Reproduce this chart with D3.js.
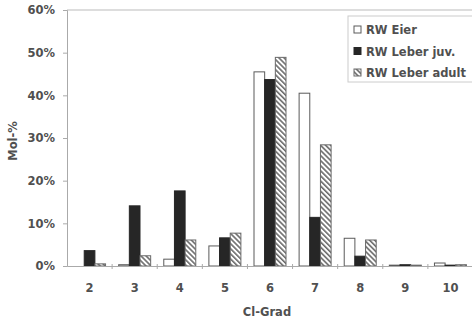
<!DOCTYPE html>
<html>
<head>
<meta charset="utf-8">
<script src="https://cdn.jsdelivr.net/npm/d3@7"></script>
<style>
  body { margin: 0; background: #fff; }
  svg text { font-family: "DejaVu Sans", sans-serif; font-weight: bold; fill: #505050; }
</style>
</head>
<body>
<svg id="chart" width="472" height="321"></svg>
<script>
// Cl-Grad categories
var grades = ["2", "3", "4", "5", "6", "7", "8", "9", "10"];
var seriesNames = ["RW Eier", "RW Leber juv.", "RW Leber adult"];
// Mol-% per series
var eier  = [0.0, 0.3, 1.6, 4.7, 45.5, 40.5, 6.5, 0.2, 0.7];
var juv   = [3.6, 14.1, 17.6, 6.6, 43.7, 11.4, 2.3, 0.3, 0.2];
var adult = [0.5, 2.4, 6.1, 7.7, 48.9, 28.4, 6.1, 0.2, 0.3];
var yTicks = [0, 10, 20, 30, 40, 50, 60];

var svg = d3.select("#chart");
var margin = {left: 67, right: -1, top: 10, bottom: 55};
var width = 472 - margin.left - margin.right;
var height = 321 - margin.top - margin.bottom;

// diagonal hatch (top-left to bottom-right)
var defs = svg.append("defs");
var pat = defs.append("pattern")
    .attr("id", "hatch")
    .attr("patternUnits", "userSpaceOnUse")
    .attr("width", 3.6).attr("height", 3.6)
    .attr("patternTransform", "rotate(-45)");
pat.append("rect").attr("width", 3.6).attr("height", 3.6).attr("fill", "#fff");
pat.append("rect").attr("width", 1.6).attr("height", 3.6).attr("fill", "#6a6a6a");

var g = svg.append("g").attr("transform", "translate(" + margin.left + "," + margin.top + ")");

var x = d3.scaleBand().domain(grades).range([0, width]);
var xs = d3.scaleBand().domain(seriesNames).range([0, 32]);
var y = d3.scaleLinear().domain([0, 60]).range([height, 0]);

var fills = ["#fff", "#262626", "url(#hatch)"];
var strokes = ["#5a5a5a", "#262626", "#6a6a6a"];
var values = [eier, juv, adult];

// top frame line
g.append("line")
    .attr("x1", 0).attr("x2", width)
    .attr("y1", y(60)).attr("y2", y(60))
    .attr("stroke", "#bbb").attr("stroke-width", 1);

seriesNames.forEach(function(name, s) {
  g.append("g").selectAll("rect")
    .data(grades)
    .enter().append("rect")
      .attr("x", function(d) { return x(d) + (x.bandwidth() - 32) / 2 + xs(name); })
      .attr("width", xs.bandwidth())
      .attr("y", function(d, i) { return y(values[s][i]); })
      .attr("height", function(d, i) { return y(0) - y(values[s][i]); })
      .attr("fill", fills[s])
      .attr("stroke", strokes[s])
      .attr("stroke-width", 1);
});

// y axis
var yAxis = g.append("g").call(d3.axisLeft(y).tickValues(yTicks).tickFormat(function(d) { return d + "%"; }).tickSize(4));
yAxis.select(".domain").attr("stroke", "#aaa");
yAxis.selectAll(".tick line").attr("stroke", "#aaa");
yAxis.selectAll(".tick text").attr("x", -12).style("font-size", "11.5px").attr("fill", "#505050");

// x axis
var xAxis = g.append("g").attr("transform", "translate(0," + height + ")")
    .call(d3.axisBottom(x).tickSize(0).tickPadding(18));
xAxis.select(".domain").attr("stroke", "#aaa");
xAxis.selectAll(".tick text").style("font-size", "11.5px").attr("fill", "#505050");
// separators between categories
xAxis.selectAll(".sep")
  .data(grades.slice(1))
  .enter().append("line")
    .attr("x1", function(d) { return x(d); })
    .attr("x2", function(d) { return x(d); })
    .attr("y1", -2).attr("y2", 3)
    .attr("stroke", "#aaa");

// axis titles
svg.append("text")
    .attr("transform", "translate(17," + (margin.top + height / 2 + 3) + ") rotate(-90)")
    .attr("text-anchor", "middle")
    .style("font-size", "11.5px")
    .text("Mol-%");
svg.append("text")
    .attr("x", margin.left + width / 2 - 3)
    .attr("y", 316)
    .attr("text-anchor", "middle")
    .style("font-size", "11.5px")
    .text("Cl-Grad");

// legend
var legend = svg.append("g").attr("transform", "translate(348,16)");
legend.append("rect")
    .attr("width", 126).attr("height", 66)
    .attr("fill", "#fff").attr("stroke", "#ccc");
seriesNames.forEach(function(name, s) {
  var row = legend.append("g").attr("transform", "translate(6," + (14 + s * 21.5) + ")");
  row.append("rect")
    .attr("x", 0).attr("y", -4).attr("width", 7).attr("height", 7)
    .attr("fill", fills[s]).attr("stroke", strokes[s]);
  row.append("text")
    .attr("x", 12).attr("y", 4)
    .style("font-size", "11.5px")
    .text(name);
});
</script>
</body>
</html>
